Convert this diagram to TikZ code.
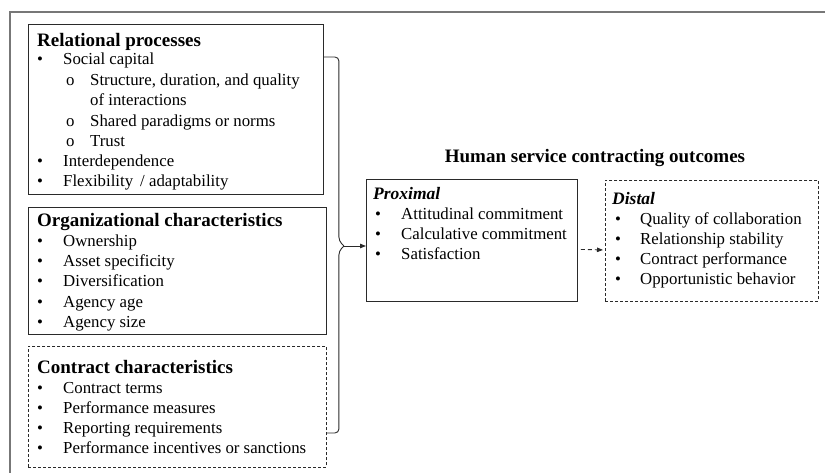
\documentclass[tikz,border=0pt]{standalone}
\usepackage{fontspec}
\setmainfont{Liberation Serif}
\usetikzlibrary{calc,arrows.meta}
\definecolor{framegray}{HTML}{777777}
\definecolor{ink}{HTML}{2A2A2A}

\begin{document}
\begin{tikzpicture}[x=1pt,y=-1pt,
  box/.style={draw=ink, line width=0.9pt, rectangle, inner sep=0pt, anchor=north west},
  dbox/.style={box, dash pattern=on 3pt off 2pt},
  head/.style={anchor=base west, inner sep=0pt, font=\fontsize{19}{20}\selectfont\bfseries},
  subhead/.style={anchor=base west, inner sep=0pt, font=\fontsize{17.5}{20}\selectfont\bfseries\itshape},
  item/.style={anchor=base west, inner sep=0pt, font=\fontsize{16.8}{20}\selectfont},
  dot/.style={anchor=base, inner sep=0pt, font=\fontsize{16.8}{20}\selectfont},
  conn/.style={draw=ink, line width=0.9pt},
  tip/.style={-{Triangle[length=6pt,width=4.5pt]}}
]
\useasboundingbox (0,0) rectangle (825,473);

% outer frame
\draw[framegray, line width=1.4pt] (10,12) rectangle (845,495);

% --- left column boxes ---
\node[box,  minimum width=295pt, minimum height=170pt] (rel) at (28,24) {};
\node[box,  minimum width=298pt, minimum height=127pt] (org) at (28,207) {};
\node[dbox, minimum width=298pt, minimum height=121pt] (con) at (28,346) {};

% Relational processes
\node[head] (relh) at (37,47) {Relational processes};
\node[dot] (relb1) at (40,65) {•};  \node[item] (relt1) at (63,65) {Social capital};
\node[item] (rels1) at (66,86) {o}; \node[item] (relt2) at (90,86) {Structure, duration, and quality};
\node[item] (relt3) at (90,106) {of interactions};
\node[item] (rels2) at (66,127) {o}; \node[item] (relt4) at (90,127) {Shared paradigms or norms};
\node[item] (rels3) at (66,147) {o}; \node[item] (relt5) at (90,147) {Trust};
\node[dot] (relb2) at (40,167) {•}; \node[item] (relt6) at (63,167) {Interdependence};
\node[dot] (relb3) at (40,187) {•}; \node[item] (relt7) at (63,187) {Flexibility\, / adaptability};

% Organizational characteristics
\node[head] (orgh) at (37,227) {Organizational characteristics};
\foreach \t [count=\i] in {Ownership, Asset specificity, Diversification, Agency age, Agency size} {
  \node[dot] (orgb\i) at (40,227+20*\i) {•};
  \node[item] (orgt\i) at (63,227+20*\i) {\t};
}

% Contract characteristics
\node[head] (conh) at (37,373) {Contract characteristics};
\foreach \t [count=\i] in {Contract terms, Performance measures, Reporting requirements, Performance incentives or sanctions} {
  \node[dot] (conb\i) at (40,373+20*\i) {•};
  \node[item] (cont\i) at (63,373+20*\i) {\t};
}

% --- outcomes ---
\node[anchor=base, inner sep=0pt, font=\fontsize{19}{20}\selectfont\bfseries] (title) at (595,163) {Human service contracting outcomes};

\node[box,  minimum width=211pt, minimum height=122pt] (prox) at (366,179) {};
\node[dbox, minimum width=213pt, minimum height=121pt] (dist) at (605,180) {};

\node[subhead] (proxh) at (373,200) {Proximal};
\foreach \t [count=\i] in {Attitudinal commitment, Calculative commitment, Satisfaction} {
  \node[dot] (proxb\i) at (378,200+20*\i) {•};
  \node[item] (proxt\i) at (401,200+20*\i) {\t};
}

\node[subhead] (disth) at (612,205) {Distal};
\foreach \t [count=\i] in {Quality of collaboration, Relationship stability, Contract performance, Opportunistic behavior} {
  \node[dot] (distb\i) at (618,205+20*\i) {•};
  \node[item] (distt\i) at (640,205+20*\i) {\t};
}

% --- connectors ---
\coordinate (join) at ($(rel.north east)+(20,222)$);
\draw[conn, rounded corners=4pt] ($(rel.north east)+(0,33)$) -| ($(join)+(-5,-5)$) -- (join);
\draw[conn, rounded corners=4pt] (join) -- ($(join)+(-5,5)$) |- ($(con.north east)+(0,87)$);
\draw[conn, tip] (join) -- (prox.west |- join);
\draw[conn, tip, dash pattern=on 4pt off 3pt] ($(prox.east)+(3,9)$) -- ($(dist.west)+(-2,9)$);
\end{tikzpicture}
\end{document}
